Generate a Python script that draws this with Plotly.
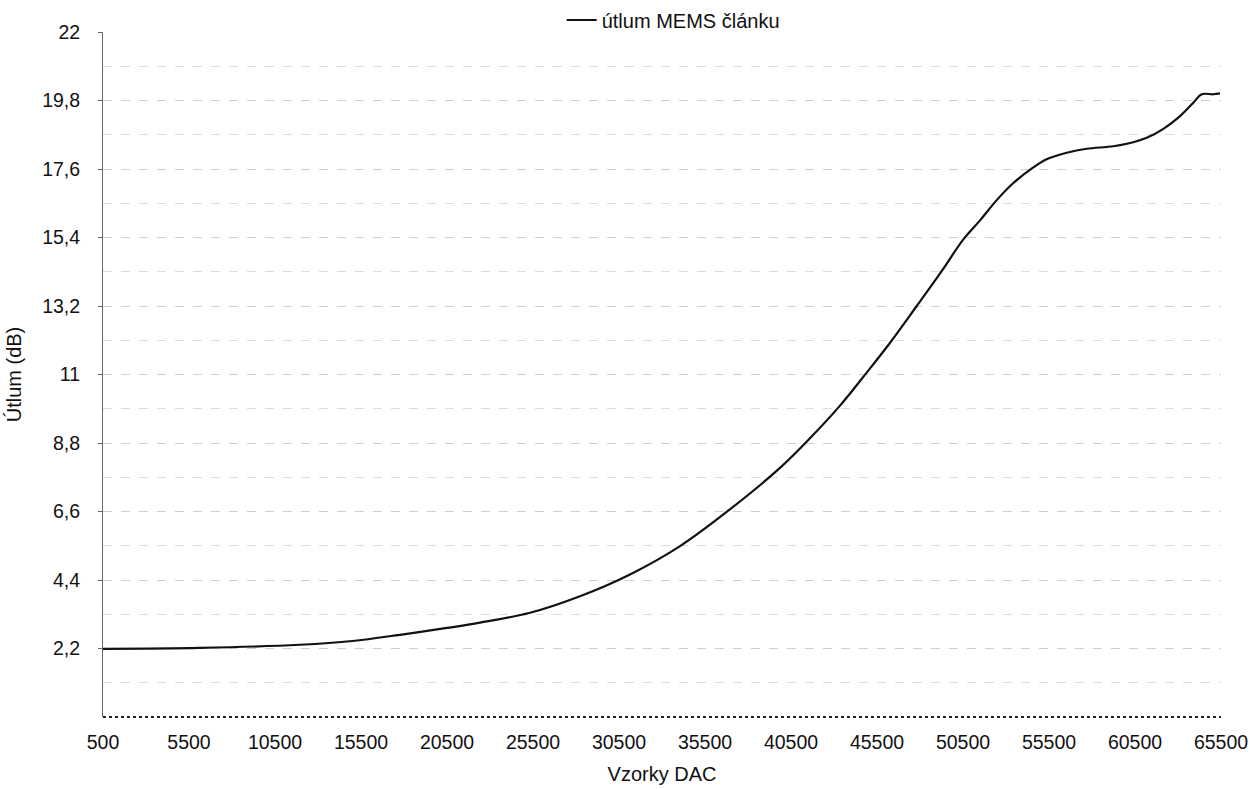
import plotly.graph_objects as go

# DAC samples (x) and attenuation in dB (y)
dac_samples = [500, 6140, 11950, 15000, 17770, 20500, 22420, 25330, 28230, 31140,
               34050, 36950, 39860, 41600, 43350, 44900, 46260, 47810, 49260, 50520,
               51490, 52460, 53430, 54590, 55360, 56530, 57690, 59240, 60400, 61180,
               62150, 63120, 63890, 64380, 65050, 65440]
attenuation_db = [2.19, 2.22, 2.32, 2.44, 2.64, 2.86, 3.03, 3.35, 3.88, 4.58,
                  5.49, 6.67, 8.00, 8.95, 10.0, 11.06, 12.02, 13.2, 14.32, 15.34,
                  15.95, 16.6, 17.15, 17.65, 17.91, 18.12, 18.25, 18.33, 18.46, 18.60,
                  18.89, 19.30, 19.73, 20.0, 20.0, 20.03]

series_name = "útlum MEMS článku"

x_tick_vals = [500, 5500, 10500, 15500, 20500, 25500, 30500, 35500, 40500,
               45500, 50500, 55500, 60500, 65500]
x_tick_text = [str(v) for v in x_tick_vals]
y_tick_vals = [2.2, 4.4, 6.6, 8.8, 11, 13.2, 15.4, 17.6, 19.8, 22]
y_tick_text = ["2,2", "4,4", "6,6", "8,8", "11", "13,2", "15,4", "17,6", "19,8", "22"]

font_family = "Liberation Sans, Arial, sans-serif"
FS = 19.5

fig = go.Figure()
fig.add_trace(go.Scatter(
    x=dac_samples, y=attenuation_db, mode="lines", name=series_name,
    line=dict(color="#111111", width=2.2, shape="spline", smoothing=1.0),
    showlegend=True,
))

fig.update_layout(
    width=1251, height=789,
    margin=dict(l=103, r=30, t=32, b=72, autoexpand=False),
    paper_bgcolor="white", plot_bgcolor="white",
    font=dict(family=font_family, size=FS, color="#111111"),
    showlegend=True,
    legend=dict(orientation="h", x=0.51, xanchor="center", xref="paper",
                y=1 - 20 / 789, yanchor="middle", yref="container",
                font=dict(size=20), itemwidth=30, bgcolor="rgba(0,0,0,0)"),
    xaxis=dict(
        range=[500, 65500], tickvals=x_tick_vals, ticktext=x_tick_text,
        showgrid=False, zeroline=False, showline=False, ticks="",
        automargin=False, ticklabelstandoff=11,
        title=dict(text="Vzorky DAC", font=dict(size=20)),
        tickfont=dict(size=FS),
    ),
    yaxis=dict(
        range=[0, 22], tickvals=y_tick_vals, ticktext=y_tick_text,
        showgrid=True, gridcolor="#cfcfcf", griddash="dash", gridwidth=1,
        minor=dict(dtick=1.1, tick0=0, showgrid=True, gridcolor="#dcdcdc",
                   griddash="dash", gridwidth=1),
        zeroline=False, showline=True, linecolor="#666666", linewidth=1,
        ticks="outside", ticklen=4, tickcolor="#666666",
        automargin=False, ticklabelstandoff=14,
        title=dict(text="Útlum (dB)", font=dict(size=20)),
        tickfont=dict(size=FS),
    ),
)

# dotted baseline along the bottom of the plot area
fig.add_shape(type="line", xref="paper", yref="paper", x0=0, x1=1, y0=0, y1=0,
              line=dict(color="#222222", width=2, dash="dot"))

fig.write_html("out.html", config={"displayModeBar": False},
               post_script="document.body.style.margin='0';")
